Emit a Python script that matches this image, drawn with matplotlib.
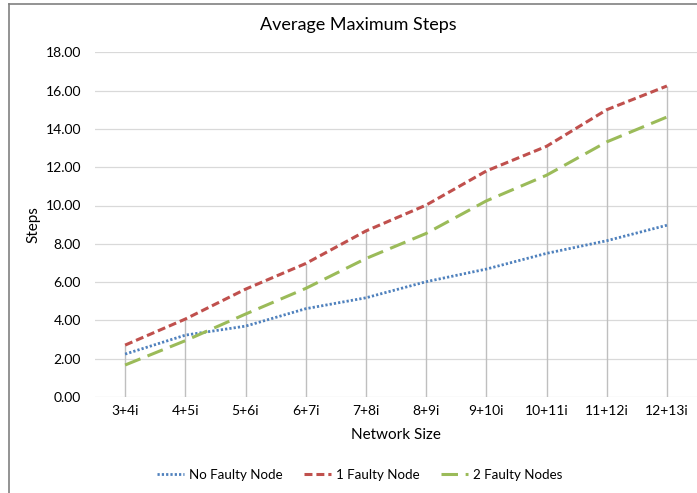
import matplotlib
matplotlib.use("Agg")
import matplotlib.pyplot as plt
from matplotlib.lines import Line2D

plt.rcParams['font.family'] = ['Lato', 'DejaVu Sans']

categories = ["3+4i", "4+5i", "5+6i", "6+7i", "7+8i", "8+9i", "9+10i", "10+11i", "11+12i", "12+13i"]
no_faulty = [2.24, 3.23, 3.70, 4.61, 5.18, 6.02, 6.68, 7.50, 8.16, 8.97]
one_faulty = [2.71, 4.07, 5.63, 6.97, 8.67, 10.02, 11.80, 13.09, 15.00, 16.24]
two_faulty = [1.67, 2.94, 4.33, 5.67, 7.23, 8.54, 10.24, 11.58, 13.32, 14.62]
series_names = ["No Faulty Node", "1 Faulty Node", "2 Faulty Nodes"]
yticks = [0, 2, 4, 6, 8, 10, 12, 14, 16, 18]

W, H = 697, 493
fig = plt.figure(figsize=(W / 100, H / 100), dpi=100)
ax = fig.add_axes([95 / W, 1 - 397 / H, (697 - 95) / W, (397 - 52.3) / H])

x = list(range(len(categories)))
ax.set_xlim(-0.5, len(categories) - 0.5)
ax.set_ylim(0, 18)

# gridlines
for t in yticks:
    ax.axhline(t, color="#D9D9D9", lw=0.9, zorder=0)

# drop lines from highest point to axis
highs = [max(a, b, c) for a, b, c in zip(no_faulty, one_faulty, two_faulty)]
ax.vlines(x, 0, highs, color="#BFBFBF", lw=1.0, zorder=1)

blue, red, green = "#4F81BD", "#C0504D", "#9BBB59"
l1, = ax.plot(x, no_faulty, color=blue, lw=2.0, linestyle=(0, (0.8, 0.75)), zorder=3)
l2, = ax.plot(x, one_faulty, color=red, lw=2.2, linestyle=(0, (2.6, 1.3)), zorder=3)
l3, = ax.plot(x, two_faulty, color=green, lw=2.2, linestyle=(0, (5.4, 2.5)), zorder=3)

ax.set_xticks(x)
ax.set_xticklabels(categories, fontsize=10, color="#000000")
ax.set_yticks(yticks)
ax.set_yticklabels([f"{t:.2f}" for t in yticks], fontsize=10, color="#000000")
ax.tick_params(axis="x", length=0, pad=6)
ax.tick_params(axis="y", length=0, pad=10)
for s in ax.spines.values():
    s.set_visible(False)

ax.set_xlabel("Network Size", fontsize=11, labelpad=8)
fig.text(33 / W, 1 - 224.5 / H, "Steps", rotation=90, fontsize=11, ha="center", va="center")
fig.text(358.5 / W, 1 - 25 / H, "Average Maximum Steps", fontsize=13, ha="center", va="center")

fig.legend([l1, l2, l3], series_names, loc="center", bbox_to_anchor=(360 / W, 1 - 475 / H),
           ncol=3, frameon=False, fontsize=9.6, handlelength=2.0, columnspacing=1.6, handletextpad=0.4)

# chart frame (cropped)
fig.add_artist(Line2D([9 / W, 1], [1 - 4 / H, 1 - 4 / H], color="#808080", lw=1.2, transform=fig.transFigure))
fig.add_artist(Line2D([9 / W, 9 / W], [0, 1 - 4 / H], color="#808080", lw=1.2, transform=fig.transFigure))

fig.savefig("out.png", dpi=100, facecolor="white")
